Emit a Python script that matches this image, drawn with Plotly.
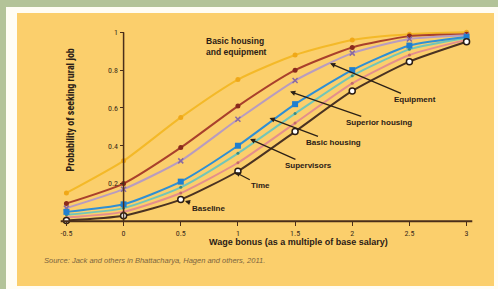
import plotly.graph_objects as go

wage_bonus = [-0.5, 0, 0.5, 1, 1.5, 2, 2.5, 3]

basic_housing_equipment = [0.15, 0.32, 0.55, 0.75, 0.88, 0.96, 0.99, 1.0]
equipment = [0.095, 0.20, 0.39, 0.61, 0.80, 0.92, 0.98, 0.99]
superior_housing = [0.07, 0.17, 0.32, 0.54, 0.745, 0.89, 0.965, 0.985]
basic_housing = [0.05, 0.09, 0.21, 0.40, 0.62, 0.80, 0.93, 0.975]
supervisors = [0.035, 0.07, 0.18, 0.36, 0.57, 0.77, 0.91, 0.97]
time_series = [0.02, 0.05, 0.15, 0.31, 0.52, 0.73, 0.88, 0.96]
baseline = [0.005, 0.03, 0.115, 0.265, 0.475, 0.69, 0.845, 0.95]

x_ticks = [-0.5, 0, 0.5, 1, 1.5, 2, 2.5, 3]
x_tick_labels = ["-0.5", "0", "0.5", "1", "1.5", "2", "2.5", "3"]
y_ticks = [0.2, 0.4, 0.6, 0.8, 1]
y_tick_labels = ["0.2", "0.4", "0.6", "0.8", "1"]

xr = [-0.6, 3.1]
yr = [-0.03, 1.06]

NARROW = "Liberation Sans Narrow, Roboto Condensed, Liberation Sans, Arial"
FONT = "Liberation Sans, Arial"
TXT = "#2b2016"

fig = go.Figure()

series = [
    (basic_housing_equipment, "#f4b928", dict(symbol="circle", size=5, color="#f0a818")),
    (equipment, "#a9402c", dict(symbol="circle", size=5, color="#8a2a1c")),
    (superior_housing, "#b89cc0", dict(symbol="x-thin", size=5, color="#8a6aa0", line=dict(width=1.5, color="#8a6aa0"))),
    (time_series, "#e48f8c", dict(symbol="circle", size=3, color="#c46a6a")),
    (supervisors, "#72c6b8", dict(symbol="circle", size=3, color="#3a8a80")),
    (basic_housing, "#2f8fd4", dict(symbol="square", size=6, color="#1f7fd0")),
    (baseline, "#4a3222", dict(symbol="circle", size=6, color="#ffffff", line=dict(width=1.5, color="#2a1c12"))),
]
for ys, col, mk in series:
    fig.add_trace(go.Scatter(
        x=wage_bonus, y=ys, mode="lines+markers",
        line=dict(color=col, width=2, shape="spline", smoothing=0.6),
        marker=mk, cliponaxis=False, showlegend=False, hoverinfo="skip"))

ypos = (0 - xr[0]) / (xr[1] - xr[0])
xpos = (0 - yr[0]) / (yr[1] - yr[0])

def px_x(p):
    return (p - 55) / 423.0

def px_y(p):
    return (227 - p) / 206.0

shapes = [
    dict(type="rect", xref="paper", yref="paper", x0=px_x(6), x1=px_x(499), y0=px_y(290), y1=px_y(7),
         fillcolor="#fffdf4", line=dict(width=0), layer="below"),
    dict(type="rect", xref="paper", yref="paper", x0=px_x(17), x1=px_x(494), y0=px_y(286), y1=px_y(13),
         fillcolor="#fbcf6c", line=dict(width=0), layer="below"),
    dict(type="line", xref="x", yref="y", x0=-0.55, x1=3.05, y0=0, y1=0,
         line=dict(color="#4a2e1a", width=2)),
    dict(type="line", xref="x", yref="y", x0=0, x1=0, y0=0, y1=1.0,
         line=dict(color="#4a2e1a", width=1.5)),
]

annotations = [
    dict(x=0.99, y=0.925, xref="x", yref="y", text="<b>Basic housing<br>and equipment</b>",
         showarrow=False, font=dict(family=FONT, size=8.5, color=TXT), align="left"),
    dict(x=px_x(62), y=px_y(110), xref="paper", yref="paper", text="<b>Probability of seeking rural job</b>",
         textangle=-90, showarrow=False, font=dict(family=NARROW, size=10, color=TXT)),
    dict(x=px_x(298), y=px_y(249), xref="paper", yref="paper",
         text="<b>Wage bonus (as a multiple of base salary)</b>",
         showarrow=False, font=dict(family=FONT, size=9, color=TXT)),
    dict(x=px_x(42), y=px_y(267), xref="paper", yref="paper", xanchor="left",
         text="<i>Source: Jack and others in Bhattacharya, Hagen and others, 2011.</i>",
         showarrow=False, font=dict(family=FONT, size=7.5, color="#7a6440")),
]

labels = [
    ("Equipment", 1.79, 0.84, 2.55, 0.645),
    ("Superior housing", 1.44, 0.69, 2.23, 0.524),
    ("Basic housing", 1.26, 0.55, 1.84, 0.418),
    ("Supervisors", 1.09, 0.44, 1.62, 0.296),
    ("Time", 0.96, 0.265, 1.2, 0.19),
    ("Baseline", 0.52, 0.11, 0.74, 0.07),
]
for t, x, y, ax, ay in labels:
    annotations.append(dict(
        x=x, y=y, ax=ax, ay=ay, xref="x", yref="y", axref="x", ayref="y",
        text="<b>" + t + "</b>", showarrow=True, arrowhead=2, arrowsize=0.8,
        arrowwidth=1.3, arrowcolor="#2b2016", standoff=2,
        font=dict(family=FONT, size=8, color=TXT)))

fig.update_layout(
    width=498, height=289,
    margin=dict(l=55, r=20, t=21, b=62),
    paper_bgcolor="#b3c398",
    plot_bgcolor="rgba(0,0,0,0)",
    shapes=shapes,
    annotations=annotations,
    xaxis=dict(range=xr, tickvals=x_ticks, ticktext=x_tick_labels, showgrid=False, zeroline=False,
               showline=False, anchor="free", position=xpos, ticks="outside", ticklen=4,
               tickcolor="#4a2e1a", tickfont=dict(family=NARROW, size=8, color="#3a2a1a")),
    yaxis=dict(range=yr, tickvals=y_ticks, ticktext=y_tick_labels, showgrid=False, zeroline=False,
               showline=False, anchor="free", position=ypos, ticks="outside", ticklen=4,
               tickcolor="#4a2e1a", tickfont=dict(family=NARROW, size=8, color="#3a2a1a")),
)

fig.write_html("out.html", config={"displayModeBar": False},
               post_script="document.body.style.margin='0';document.body.style.overflow='hidden';")
